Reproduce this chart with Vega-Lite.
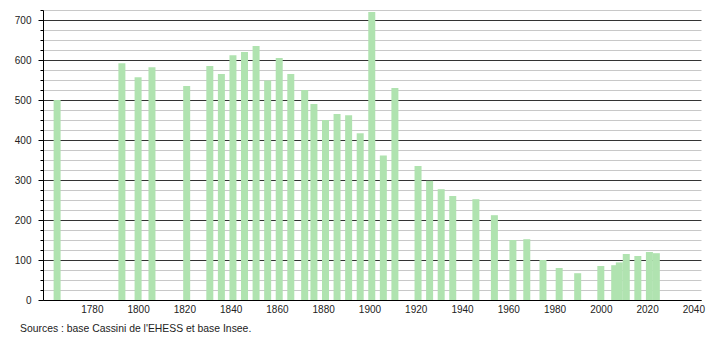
{
  "$schema": "https://vega.github.io/schema/vega-lite/v6.json",
  "width": 658,
  "height": 290,
  "autosize": "none",
  "padding": {"left": 43, "top": 10, "right": 9, "bottom": 40},
  "background": "white",
  "config": {"view": {"stroke": null}, "font": "Liberation Sans"},
  "title": {"text": "Sources : base Cassini de l'EHESS et base Insee.", "orient": "bottom", "anchor": "start", "frame": "group", "dx": -23, "fontSize": 10.4, "fontWeight": "normal", "color": "#222", "offset": 10},
  "data": {"values": [
    {"year": 1765, "population": 500},
    {"year": 1793, "population": 592},
    {"year": 1800, "population": 557},
    {"year": 1806, "population": 582},
    {"year": 1821, "population": 535},
    {"year": 1831, "population": 585},
    {"year": 1836, "population": 565},
    {"year": 1841, "population": 612},
    {"year": 1846, "population": 620},
    {"year": 1851, "population": 635},
    {"year": 1856, "population": 549},
    {"year": 1861, "population": 605},
    {"year": 1866, "population": 565},
    {"year": 1872, "population": 525},
    {"year": 1876, "population": 490},
    {"year": 1881, "population": 450},
    {"year": 1886, "population": 465},
    {"year": 1891, "population": 462},
    {"year": 1896, "population": 417},
    {"year": 1901, "population": 720},
    {"year": 1906, "population": 361},
    {"year": 1911, "population": 530},
    {"year": 1921, "population": 335},
    {"year": 1926, "population": 298},
    {"year": 1931, "population": 277},
    {"year": 1936, "population": 260},
    {"year": 1946, "population": 252},
    {"year": 1954, "population": 212},
    {"year": 1962, "population": 150},
    {"year": 1968, "population": 152},
    {"year": 1975, "population": 100},
    {"year": 1982, "population": 80},
    {"year": 1990, "population": 67},
    {"year": 2000, "population": 85},
    {"year": 2006, "population": 87},
    {"year": 2008, "population": 94},
    {"year": 2011, "population": 115},
    {"year": 2016, "population": 110},
    {"year": 2021, "population": 120},
    {"year": 2024, "population": 117}
  ]},
  "mark": {"type": "bar", "size": 7, "color": "#b0e3b0"},
  "encoding": {
    "x": {
      "field": "year", "type": "quantitative",
      "scale": {"domain": [1758.9, 2043.3], "nice": false, "zero": false, "padding": 0},
      "axis": {
        "values": [1780, 1800, 1820, 1840, 1860, 1880, 1900, 1920, 1940, 1960, 1980, 2000, 2020, 2040],
        "format": "d", "title": null, "grid": false, "ticks": false,
        "domainColor": "#000", "labelFontSize": 10, "labelColor": "#222",
        "labelPadding": 4, "labelFlush": false
      }
    },
    "y": {
      "field": "population", "type": "quantitative",
      "scale": {"domain": [0, 725], "nice": false, "padding": 0},
      "axis": {
        "values": [0, 25, 50, 75, 100, 125, 150, 175, 200, 225, 250, 275, 300, 325, 350, 375, 400, 425, 450, 475, 500, 525, 550, 575, 600, 625, 650, 675, 700, 725],
        "title": null,
        "labelExpr": "datum.value % 100 === 0 ? datum.label : ''",
        "grid": true,
        "gridColor": {"condition": {"test": "datum.value % 100 === 0", "value": "#333333"}, "value": "#c8c8c8"},
        "gridWidth": 1,
        "tickColor": "#000",
        "tickSize": {"condition": {"test": "datum.value % 100 === 0", "value": 5}, "value": 3},
        "domainColor": "#000",
        "labelFontSize": 10, "labelColor": "#222", "labelPadding": 7,
        "labelFlush": false
      }
    }
  }
}
